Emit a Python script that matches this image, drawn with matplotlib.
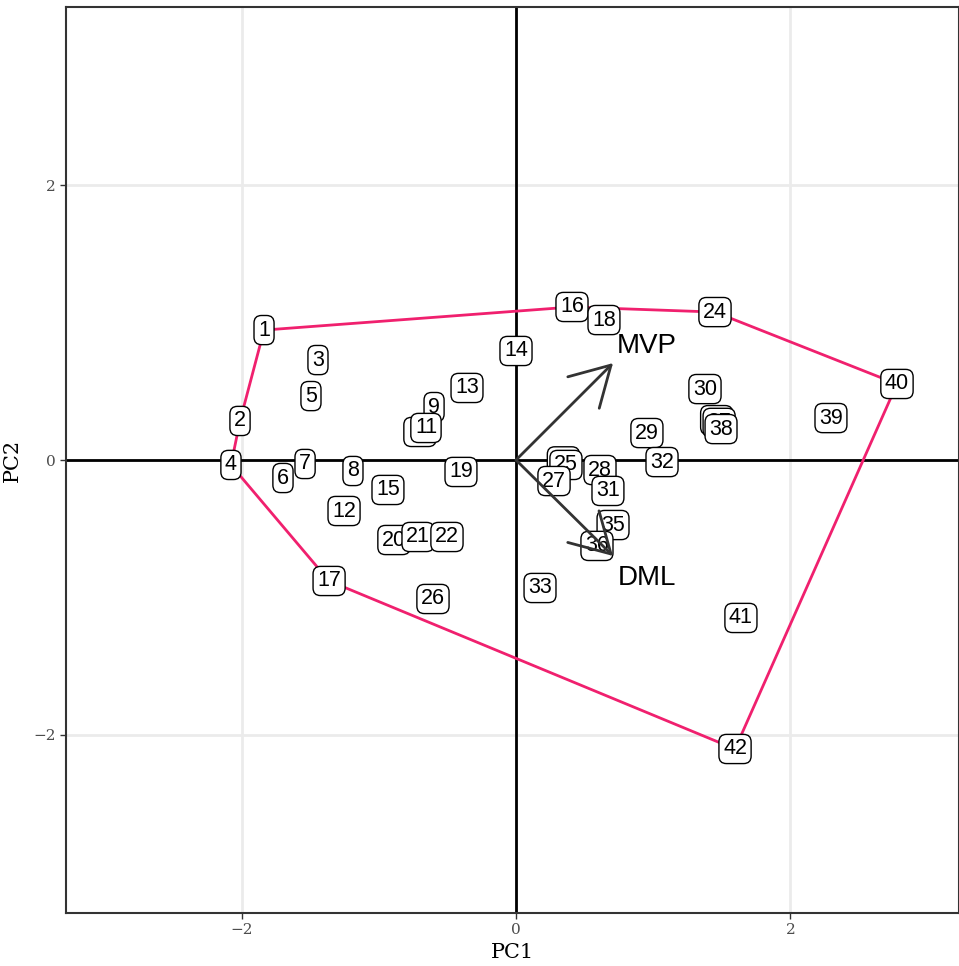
import matplotlib
matplotlib.use("Agg")
import matplotlib.pyplot as plt
from matplotlib.patches import FancyArrowPatch

# Sample scores on the first two principal components
ids = [str(i) for i in range(1, 43)]
pc1 = [-1.836, -2.011, -1.443, -2.077, -1.494, -1.698, -1.537, -1.188, -0.597, -0.700,
       -0.656, -1.253, -0.357, 0.000, -0.933, 0.408, -1.362, 0.641, -0.401, -0.889,
       -0.714, -0.503, 0.345, 1.450, 0.364, -0.605, 0.277, 0.612, 0.954, 1.377,
       0.670, 1.064, 0.175, 1.462, 0.707, 0.590, 1.480, 1.494, 2.295, 2.776,
       1.639, 1.596]
pc2 = [0.945, 0.284, 0.727, -0.036, 0.465, -0.131, -0.029, -0.080, 0.385, 0.204,
       0.233, -0.371, 0.524, 0.793, -0.218, 1.113, -0.880, 1.018, -0.087, -0.582,
       -0.560, -0.560, -0.010, 1.076, -0.036, -1.011, -0.153, -0.073, 0.196, 0.516,
       -0.225, -0.015, -0.931, 0.290, -0.473, -0.625, 0.270, 0.225, 0.305, 0.553,
       -1.149, -2.102]

# Convex hull vertices (sample ids, in drawing order)
hull_ids = [1, 16, 24, 40, 42, 17, 4, 2]

# Variable loadings
var_names = ["MVP", "DML"]
load_x = [0.707, 0.707]
load_y = [0.705, -0.698]
label_x = [0.955, 0.955]
label_y = [0.829, -0.858]

fig = plt.figure(figsize=(9.59, 9.66), dpi=100)
ax = fig.add_axes([66 / 959, 53 / 966, (959 - 66) / 959, (913 - 7) / 966])

ax.set_xlim(-3.279, 3.228)
ax.set_ylim(-3.295, 3.295)

# grid
ax.set_xticks([-2, 0, 2])
ax.set_yticks([-2, 0, 2])
ax.grid(True, color="#EBEBEB", linewidth=2.0, zorder=0)
ax.set_axisbelow(True)

# origin lines
ax.axhline(0, color="black", linewidth=2.0, zorder=1)
ax.axvline(0, color="black", linewidth=2.0, zorder=1)

# hull
hx = [pc1[i - 1] for i in hull_ids] + [pc1[hull_ids[0] - 1]]
hy = [pc2[i - 1] for i in hull_ids] + [pc2[hull_ids[0] - 1]]
ax.plot(hx, hy, color="#F0206E", linewidth=2.0, zorder=2)

# sample labels
for lab, x, y in zip(ids, pc1, pc2):
    ax.text(x, y, lab, ha="center", va="center", fontsize=15.5,
            family="Liberation Sans", color="black", zorder=3,
            bbox=dict(boxstyle="round,pad=0.19,rounding_size=0.35",
                      facecolor="white", edgecolor="black", linewidth=1.0))

# loading arrows
for name, lx, ly, tx, ty in zip(var_names, load_x, load_y, label_x, label_y):
    arr = FancyArrowPatch((0, 0), (lx, ly), arrowstyle="->,head_length=28,head_width=16",
                          color="#333333", linewidth=2.0, zorder=4,
                          shrinkA=0, shrinkB=0, mutation_scale=1)
    ax.add_patch(arr)
    ax.text(tx, ty, name, ha="center", va="center", fontsize=20,
            family="Liberation Sans", color="black", zorder=5)

for s in ax.spines.values():
    s.set_color("#333333")
    s.set_linewidth(1.5)

ax.tick_params(axis="both", length=4, color="#333333", width=1.0,
               labelsize=11, labelcolor="#4D4D4D")
ax.set_xticklabels(["\u22122", "0", "2"])
ax.set_yticklabels(["\u22122", "0", "2"])
for lbl in ax.get_xticklabels() + ax.get_yticklabels():
    lbl.set_family("DejaVu Serif")
ax.set_xlabel("PC1", family="DejaVu Serif", fontsize=15, labelpad=4)
ax.set_ylabel("PC2", family="DejaVu Serif", fontsize=15, labelpad=8)

fig.savefig("out.png", dpi=100)
